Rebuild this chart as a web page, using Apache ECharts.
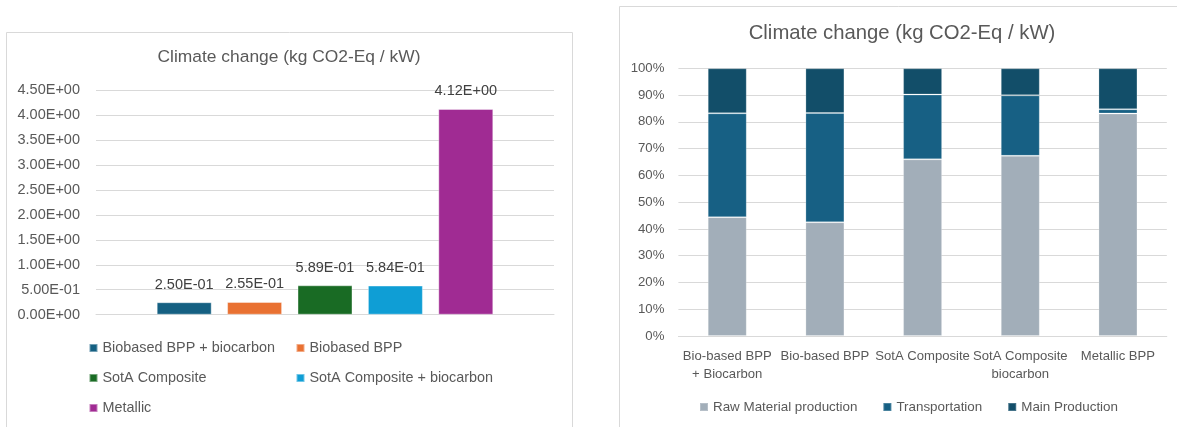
<!DOCTYPE html>
<html>
<head>
<meta charset="utf-8">
<title>Climate change (kg CO2-Eq / kW)</title>
<script src="https://cdn.jsdelivr.net/npm/echarts@6/dist/echarts.min.js"></script>
<style>
  html, body { margin: 0; padding: 0; background: #ffffff; }
  #chart { width: 1177px; height: 427px; }
</style>
</head>
<body>
<div id="chart"></div>
<script>
// Absolute totals per plate design (left panel)
const designNames = [
  'Biobased BPP + biocarbon',
  'Biobased BPP',
  'SotA Composite',
  'SotA Composite + biocarbon',
  'Metallic'
];
const designTotals = [0.250, 0.255, 0.589, 0.584, 4.12];
const designColors = ['#156082', '#E97132', '#196B24', '#0F9ED5', '#A02B93'];
const totalTicks = { min: 0, max: 4.5, interval: 0.5 };

// Share of each life-cycle stage (right panel, percent)
const stageCategories = [
  'Bio-based BPP\n+ Biocarbon',
  'Bio-based BPP',
  'SotA Composite',
  'SotA Composite\nbiocarbon',
  'Metallic BPP'
];
const stageNames = ['Raw Material production', 'Transportation', 'Main Production'];
const rawMaterial = [44.4, 42.5, 66.0, 67.3, 83.1];
const transportation = [38.8, 40.8, 24.2, 22.6, 1.6];
const mainProduction = [16.8, 16.7, 9.8, 10.1, 15.3];
const stageColors = ['#A2AEB9', '#176084', '#124E69'];
const shareTicks = { min: 0, max: 100, interval: 10 };

const TEXT = '#595959';
const GRID_LINE = '#D9D9D9';
const FONT = '"Liberation Sans", Arial, sans-serif';

// Excel-style scientific notation, e.g. 2.50E-01
function sci(v) {
  const parts = Number(v).toExponential(2).split('e');
  const e = parseInt(parts[1], 10);
  return parts[0] + 'E' + (e < 0 ? '-' : '+') + String(Math.abs(e)).padStart(2, '0');
}

const chart = echarts.init(document.getElementById('chart'), null, { renderer: 'canvas' });

const leftSeries = designNames.map((name, i) => ({
  name: name,
  type: 'bar',
  xAxisIndex: 0,
  yAxisIndex: 0,
  barWidth: 55,
  barGap: '28%',
  itemStyle: { color: designColors[i], borderColor: 'rgba(255,255,255,0.4)', borderWidth: 1 },
  label: {
    show: true,
    position: 'top',
    distance: 10,
    formatter: p => sci(p.value),
    color: '#404040',
    fontFamily: FONT,
    fontSize: 14.5
  },
  data: [designTotals[i]]
}));

const stageData = [rawMaterial, transportation, mainProduction];
const rightSeries = stageNames.map((name, i) => ({
  name: name,
  type: 'bar',
  stack: 'share',
  xAxisIndex: 1,
  yAxisIndex: 1,
  barWidth: 39,
  itemStyle: { color: stageColors[i], borderColor: 'rgba(255,255,255,0.22)', borderWidth: 1 },
  data: stageData[i]
}));

const option = {
  animation: false,
  backgroundColor: '#ffffff',
  textStyle: { fontFamily: FONT },
  graphic: [
    { type: 'rect', shape: { x: 6.5, y: 32.5, width: 566, height: 420 },
      style: { fill: 'none', stroke: GRID_LINE, lineWidth: 1 }, silent: true, z: -10 },
    { type: 'rect', shape: { x: 619.5, y: 6.5, width: 600, height: 440 },
      style: { fill: 'none', stroke: GRID_LINE, lineWidth: 1 }, silent: true, z: -10 }
  ],
  title: [
    { text: 'Climate change (kg CO2-Eq / kW)', left: 289, top: 57, padding: 0,
      textAlign: 'center', textVerticalAlign: 'middle',
      textStyle: { color: TEXT, fontFamily: FONT, fontSize: 17.4, fontWeight: 'normal' } },
    { text: 'Climate change (kg CO2-Eq / kW)', left: 902, top: 33, padding: 0,
      textAlign: 'center', textVerticalAlign: 'middle',
      textStyle: { color: TEXT, fontFamily: FONT, fontSize: 20.3, fontWeight: 'normal' } }
  ],
  legend: [
    { data: [designNames[0], designNames[2], designNames[4]], orient: 'vertical',
      left: 88.5, top: 340, padding: 0, itemGap: 14, itemWidth: 8, itemHeight: 8, icon: 'rect',
      textStyle: { color: TEXT, fontFamily: FONT, fontSize: 14.4, lineHeight: 16 } },
    { data: [designNames[1], designNames[3]], orient: 'vertical',
      left: 295.5, top: 340, padding: 0, itemGap: 14, itemWidth: 8, itemHeight: 8, icon: 'rect',
      textStyle: { color: TEXT, fontFamily: FONT, fontSize: 14.4, lineHeight: 16 } },
    { data: stageNames, orient: 'horizontal',
      left: 699, top: 399, padding: 0, itemGap: 25, itemWidth: 8, itemHeight: 8, icon: 'rect',
      textStyle: { color: TEXT, fontFamily: FONT, fontSize: 13.4, lineHeight: 16 } }
  ],
  grid: [
    { left: 96, right: 623, top: 90, bottom: 112.3, containLabel: false },
    { left: 678.4, right: 10.2, top: 68.3, bottom: 91, containLabel: false }
  ],
  xAxis: [
    { type: 'category', gridIndex: 0, data: ['Climate change'],
      axisLine: { show: true, lineStyle: { color: GRID_LINE, width: 1 } },
      axisTick: { show: false }, axisLabel: { show: false } },
    { type: 'category', gridIndex: 1, data: stageCategories,
      axisLine: { show: true, lineStyle: { color: GRID_LINE, width: 1 } },
      axisTick: { show: false },
      axisLabel: { color: TEXT, fontFamily: FONT, fontSize: 13.1, lineHeight: 18.4, margin: 11, interval: 0 } }
  ],
  yAxis: [
    { type: 'value', gridIndex: 0, min: totalTicks.min, max: totalTicks.max, interval: totalTicks.interval,
      axisLine: { show: false }, axisTick: { show: false },
      splitLine: { lineStyle: { color: GRID_LINE, width: 1 } },
      axisLabel: { color: TEXT, fontFamily: FONT, fontSize: 14.5, margin: 16, formatter: v => sci(v) } },
    { type: 'value', gridIndex: 1, min: shareTicks.min, max: shareTicks.max, interval: shareTicks.interval,
      axisLine: { show: false }, axisTick: { show: false },
      splitLine: { lineStyle: { color: GRID_LINE, width: 1 } },
      axisLabel: { color: TEXT, fontFamily: FONT, fontSize: 13.2, margin: 14, formatter: '{value}%' } }
  ],
  series: leftSeries.concat(rightSeries)
};

chart.setOption(option);
</script>
</body>
</html>
